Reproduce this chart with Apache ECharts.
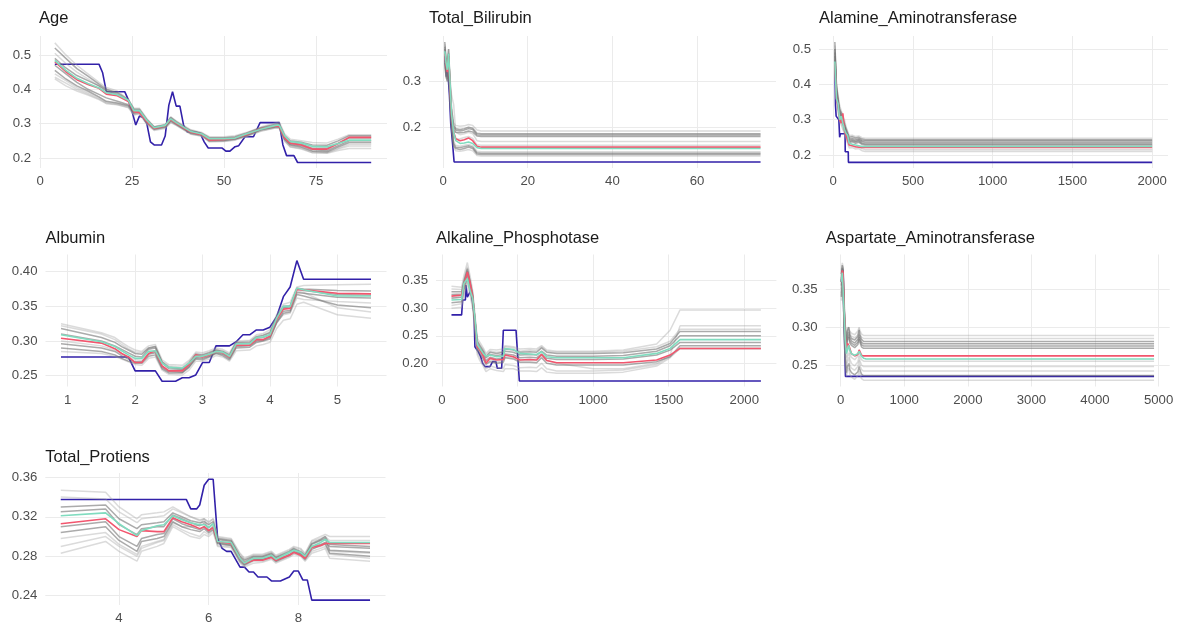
<!DOCTYPE html>
<html>
<head>
<meta charset="utf-8">
<script src="https://cdn.jsdelivr.net/npm/echarts@6/dist/echarts.min.js"></script>
<style>
  html, body { margin: 0; padding: 0; background: #ffffff; }
  #chart { width: 1179px; height: 625px; }
</style>
</head>
<body>
<div id="chart"></div>
<script>
// ---------- Age ----------
const ageX = [4,7,10,13,16,18,21,24,25.5,27,29,31,34,35.5,37,39,41,44,46,50,53,56,60,64,65,66.5,68,71,74,78,81,84,90];
const ageRed = [0.480,0.451,0.428,0.414,0.403,0.386,0.381,0.364,0.335,0.332,0.306,0.286,0.294,0.312,0.301,0.288,0.275,0.268,0.252,0.254,0.258,0.268,0.285,0.293,0.292,0.258,0.243,0.238,0.226,0.226,0.242,0.260,0.260];
const ageTeal = [0.484,0.455,0.432,0.417,0.404,0.390,0.384,0.368,0.338,0.338,0.310,0.288,0.295,0.314,0.303,0.290,0.277,0.270,0.256,0.256,0.258,0.270,0.284,0.295,0.296,0.264,0.248,0.244,0.234,0.233,0.242,0.252,0.252];
const ageIceDark = [
  [.52,.49,.46,.438,.415,.40,.39,.37,.342,.342,.312,.29,.296,.318,.306,.292,.28,.272,.259,.259,.262,.272,.288,.298,.30,.265,.25,.246,.238,.237,.25,.265,.265],
  [.49,.462,.44,.425,.41,.395,.385,.366,.338,.336,.31,.288,.294,.313,.302,.289,.276,.27,.254,.256,.258,.268,.285,.294,.295,.26,.244,.24,.228,.228,.242,.258,.258],
  [.47,.445,.42,.40,.385,.375,.365,.355,.333,.335,.305,.286,.292,.31,.30,.286,.274,.268,.252,.253,.256,.266,.283,.292,.292,.256,.24,.236,.224,.222,.236,.25,.25],
  [.455,.43,.41,.395,.378,.365,.36,.352,.33,.333,.303,.284,.29,.308,.298,.285,.272,.266,.25,.251,.255,.265,.282,.29,.29,.254,.238,.232,.22,.218,.232,.245,.245]
];
const ageIceLight = [
  [.535,.50,.47,.445,.42,.405,.395,.37,.345,.345,.315,.292,.298,.32,.308,.295,.282,.274,.262,.262,.265,.274,.29,.302,.305,.27,.255,.25,.245,.244,.255,.268,.268],
  [.505,.475,.45,.43,.41,.398,.388,.366,.34,.34,.31,.29,.296,.316,.304,.29,.279,.27,.257,.257,.26,.27,.287,.297,.298,.262,.246,.242,.232,.231,.245,.262,.262],
  [.445,.425,.405,.39,.375,.362,.358,.35,.328,.331,.302,.283,.289,.306,.297,.284,.271,.265,.249,.25,.254,.264,.28,.289,.289,.252,.235,.23,.218,.216,.228,.24,.24],
  [.435,.418,.40,.386,.372,.36,.356,.348,.326,.33,.30,.282,.288,.305,.296,.283,.27,.264,.248,.249,.253,.263,.279,.288,.288,.25,.233,.228,.216,.215,.226,.235,.235],
  [.43,.41,.395,.383,.37,.358,.355,.346,.325,.328,.298,.28,.286,.303,.295,.282,.269,.263,.247,.248,.252,.262,.278,.287,.287,.248,.232,.226,.215,.214,.222,.228,.228]
];
const ageBlueX = [4,16,17,18,23,24,25,26,27,28,29,30,31,33,34,35,36,37,38,39,40,42,43.5,44.6,45.7,49.5,50.5,51.6,53,54,55.7,58,59.8,65,66,67,69,70,90];
const ageBlueY = [.473,.473,.448,.393,.393,.369,.335,.296,.322,.318,.301,.247,.238,.238,.264,.354,.393,.351,.351,.296,.276,.276,.272,.247,.229,.229,.220,.220,.233,.236,.262,.262,.303,.303,.238,.207,.207,.187,.187];
const ageXTicks = [0,25,50,75];
const ageYTicks = [0.2,0.3,0.4,0.5];

// ---------- Total_Bilirubin ----------
const bilX = [0.4,0.7,1.0,1.3,1.6,2.0,2.5,3.0,4.0,5.0,6.0,7.0,8.0,9.0,75];
const bilRed = [0.36,0.335,0.32,0.355,0.30,0.225,0.19,0.176,0.172,0.174,0.178,0.172,0.16,0.158,0.158];
const bilTeal = [0.365,0.34,0.325,0.36,0.305,0.23,0.19,0.172,0.166,0.167,0.169,0.166,0.157,0.155,0.155];
const bilIceDark = [
  [0.385,0.35,0.34,0.37,0.31,0.24,0.205,0.198,0.196,0.198,0.201,0.199,0.188,0.187,0.187],
  [0.375,0.34,0.33,0.36,0.30,0.23,0.20,0.195,0.193,0.195,0.198,0.196,0.185,0.184,0.184],
  [0.37,0.33,0.32,0.355,0.29,0.22,0.195,0.19,0.189,0.19,0.193,0.191,0.182,0.181,0.181],
  [0.345,0.315,0.305,0.335,0.275,0.205,0.165,0.158,0.157,0.159,0.161,0.158,0.146,0.145,0.145],
  [0.34,0.31,0.30,0.33,0.27,0.20,0.16,0.155,0.153,0.155,0.158,0.155,0.143,0.142,0.142]
];
const bilIceLight = [
  [0.38,0.34,0.33,0.37,0.30,0.24,0.21,0.205,0.203,0.204,0.207,0.205,0.195,0.193,0.193],
  [0.36,0.33,0.32,0.35,0.29,0.22,0.18,0.175,0.176,0.179,0.181,0.177,0.163,0.162,0.162],
  [0.35,0.32,0.31,0.34,0.28,0.21,0.17,0.162,0.16,0.162,0.164,0.161,0.149,0.148,0.148],
  [0.33,0.31,0.30,0.32,0.27,0.20,0.158,0.15,0.149,0.151,0.153,0.15,0.14,0.139,0.139],
  [0.35,0.33,0.32,0.35,0.31,0.27,0.25,0.19,0.185,0.187,0.19,0.187,0.172,0.17,0.17]
];
const bilBlueX = [0.4,0.6,0.8,1.0,1.2,1.5,1.8,2.2,2.6,75];
const bilBlueY = [0.355,0.33,0.31,0.33,0.31,0.27,0.21,0.17,0.126,0.126];
const bilXTicks = [0,20,40,60];
const bilYTicks = [0.2,0.3];

// ---------- Alamine_Aminotransferase ----------
const alaX = [10,20,30,40,50,60,70,80,90,100,120,140,160,180,200,2000];
const alaRed = [0.46,0.36,0.34,0.30,0.29,0.318,0.27,0.255,0.25,0.228,0.226,0.223,0.222,0.221,0.221,0.221];
const alaTeal = [0.465,0.36,0.345,0.30,0.31,0.29,0.272,0.262,0.255,0.233,0.23,0.228,0.226,0.224,0.224,0.224];
const alaIceDark = [
  [0.52,0.40,0.36,0.33,0.32,0.32,0.29,0.275,0.27,0.25,0.252,0.248,0.25,0.245,0.243,0.243],
  [0.50,0.39,0.355,0.325,0.315,0.315,0.285,0.27,0.265,0.245,0.247,0.244,0.246,0.241,0.240,0.240],
  [0.49,0.38,0.35,0.32,0.31,0.31,0.28,0.267,0.262,0.242,0.244,0.24,0.243,0.238,0.236,0.236],
  [0.48,0.375,0.345,0.315,0.305,0.305,0.278,0.264,0.258,0.238,0.24,0.237,0.24,0.234,0.232,0.232],
  [0.47,0.37,0.34,0.31,0.30,0.30,0.275,0.26,0.255,0.235,0.237,0.233,0.236,0.231,0.229,0.229]
];
const alaIceLight = [
  [0.51,0.40,0.37,0.34,0.325,0.33,0.30,0.28,0.275,0.255,0.256,0.252,0.254,0.249,0.247,0.247],
  [0.45,0.36,0.33,0.30,0.29,0.29,0.265,0.25,0.245,0.225,0.226,0.222,0.224,0.218,0.215,0.215],
  [0.44,0.35,0.32,0.295,0.285,0.285,0.26,0.245,0.24,0.22,0.221,0.217,0.218,0.212,0.21,0.21],
  [0.50,0.385,0.35,0.32,0.31,0.31,0.28,0.265,0.26,0.24,0.241,0.238,0.239,0.228,0.226,0.226]
];
const alaBlueX = [10,14,18,25,35,40,45,55,74,75,94,95,2000];
const alaBlueY = [0.46,0.34,0.31,0.315,0.30,0.25,0.26,0.26,0.26,0.209,0.209,0.179,0.179];
const alaXTicks = [0,500,1000,1500,2000];
const alaYTicks = [0.2,0.3,0.4,0.5];

// ---------- Albumin ----------
const albX = [0.9,1.5,1.7,1.8,1.9,2.0,2.1,2.2,2.3,2.4,2.5,2.7,2.8,2.9,3.0,3.1,3.2,3.3,3.4,3.5,3.7,3.8,3.9,4.0,4.1,4.2,4.3,4.4,4.5,5.0,5.5];
const albRed = [0.304,0.297,0.289,0.282,0.277,0.269,0.269,0.282,0.286,0.264,0.257,0.257,0.266,0.280,0.277,0.280,0.285,0.283,0.277,0.294,0.294,0.302,0.302,0.307,0.331,0.346,0.347,0.374,0.374,0.369,0.368];
const albTeal = [0.309,0.299,0.292,0.286,0.280,0.275,0.275,0.285,0.286,0.268,0.262,0.261,0.268,0.278,0.278,0.281,0.285,0.284,0.278,0.296,0.296,0.305,0.306,0.309,0.333,0.350,0.350,0.376,0.374,0.365,0.365];
const albIceDark = [
  [.318,.305,.298,.292,.287,.282,.281,.29,.292,.27,.262,.26,.268,.281,.28,.283,.287,.285,.28,.298,.298,.306,.308,.312,.335,.35,.351,.376,.375,.373,.372],
  [.296,.29,.285,.279,.274,.27,.27,.281,.283,.262,.256,.255,.263,.276,.275,.278,.283,.281,.275,.292,.293,.30,.301,.305,.328,.343,.344,.37,.369,.363,.362],
  [.29,.285,.28,.275,.271,.268,.268,.278,.28,.26,.254,.254,.262,.274,.273,.277,.282,.279,.273,.29,.291,.298,.30,.303,.326,.34,.342,.367,.365,.352,.348],
  [.31,.30,.293,.288,.283,.278,.277,.288,.29,.268,.26,.259,.267,.279,.278,.281,.286,.284,.278,.296,.296,.304,.305,.309,.332,.348,.349,.375,.373,.367,.366]
];
const albIceLight = [
  [.325,.312,.305,.298,.292,.287,.285,.293,.295,.273,.266,.265,.272,.284,.283,.286,.29,.288,.283,.30,.301,.309,.311,.316,.338,.353,.356,.378,.38,.381,.382],
  [.285,.282,.278,.274,.27,.266,.265,.275,.277,.258,.252,.251,.258,.271,.271,.274,.279,.277,.271,.286,.287,.293,.295,.298,.318,.33,.332,.353,.356,.338,.333],
  [.30,.293,.287,.282,.277,.273,.272,.282,.284,.264,.257,.256,.264,.276,.276,.279,.284,.282,.276,.293,.294,.301,.302,.306,.327,.338,.34,.362,.36,.357,.355],
  [.322,.31,.302,.295,.289,.284,.283,.29,.292,.27,.264,.262,.27,.282,.281,.284,.288,.286,.281,.298,.30,.307,.309,.313,.334,.348,.35,.372,.37,.348,.342]
];
const albBlueX = [0.9,1.9,2.0,2.3,2.4,2.6,2.7,2.8,2.9,3.0,3.1,3.2,3.4,3.5,3.6,3.7,3.8,3.9,4.0,4.1,4.2,4.3,4.4,4.5,5.5];
const albBlueY = [0.277,0.277,0.257,0.257,0.242,0.242,0.247,0.247,0.251,0.269,0.269,0.293,0.293,0.299,0.309,0.309,0.316,0.316,0.32,0.335,0.364,0.378,0.416,0.389,0.389];
const albXTicks = [1,2,3,4,5];
const albYTicks = [0.25,0.30,0.35,0.40];

// ---------- Alkaline_Phosphotase ----------
const alkX = [63,130,146,168,185,203,218,234,251,273,291,318,362,406,417,472,516,582,626,659,693,759,1000,1200,1420,1509,1575,2110];
const alkRed = [0.322,0.324,0.342,0.366,0.348,0.321,0.279,0.23,0.224,0.213,0.20,0.209,0.206,0.207,0.215,0.212,0.206,0.207,0.206,0.216,0.205,0.201,0.201,0.201,0.206,0.215,0.227,0.227];
const alkTeal = [0.315,0.316,0.345,0.354,0.333,0.318,0.282,0.234,0.227,0.218,0.213,0.215,0.212,0.213,0.227,0.225,0.218,0.217,0.216,0.221,0.212,0.21,0.21,0.21,0.218,0.227,0.243,0.243];
const alkIceDark = [
  [.33,.33,.35,.372,.35,.325,.28,.235,.228,.22,.21,.216,.214,.216,.222,.22,.215,.216,.215,.222,.215,.213,.213,.214,.222,.232,.25,.25],
  [.318,.32,.34,.362,.342,.318,.275,.232,.224,.215,.205,.211,.208,.21,.217,.215,.21,.211,.21,.217,.209,.207,.207,.208,.215,.224,.238,.238],
  [.31,.312,.335,.355,.335,.312,.27,.226,.218,.208,.198,.203,.20,.202,.21,.208,.202,.202,.201,.21,.20,.197,.197,.197,.203,.212,.232,.232],
  [.325,.326,.345,.368,.346,.322,.278,.24,.232,.222,.212,.22,.218,.22,.226,.224,.22,.221,.22,.228,.22,.218,.218,.219,.226,.236,.258,.258]
];
const alkIceLight = [
  [.34,.338,.36,.383,.36,.332,.29,.245,.238,.228,.218,.225,.224,.226,.232,.23,.226,.227,.226,.232,.224,.222,.222,.224,.235,.26,.297,.297],
  [.30,.302,.325,.345,.325,.30,.26,.215,.205,.195,.185,.19,.187,.185,.19,.19,.186,.186,.185,.192,.184,.182,.182,.184,.195,.21,.228,.228],
  [.32,.322,.34,.36,.34,.315,.272,.23,.22,.21,.20,.206,.203,.205,.212,.21,.205,.205,.205,.213,.205,.20,.19,.19,.20,.215,.268,.268],
  [.335,.334,.352,.375,.352,.328,.285,.24,.233,.225,.215,.222,.22,.222,.23,.228,.222,.224,.223,.23,.222,.22,.22,.222,.23,.24,.262,.262],
  [.305,.308,.33,.35,.33,.305,.265,.22,.21,.20,.19,.195,.192,.19,.198,.196,.192,.193,.192,.20,.19,.186,.186,.188,.198,.212,.226,.226]
];
const alkBlueX = [63,130,137,155,159,168,181,192,203,212,218,240,256,269,285,318,335,357,366,395,406,490,512,2110];
const alkBlueY = [0.288,0.288,0.315,0.315,0.342,0.32,0.32,0.333,0.333,0.291,0.23,0.221,0.212,0.20,0.194,0.194,0.203,0.203,0.191,0.191,0.26,0.26,0.168,0.168];
const alkXTicks = [0,500,1000,1500,2000];
const alkYTicks = [0.20,0.25,0.30,0.35];

// ---------- Aspartate_Aminotransferase ----------
const aspX = [10,25,37,53,70,90,106,127,143,169,195,220,248,270,290,301,327,338,360,400,4929];
const aspRed = [0.36,0.375,0.372,0.325,0.29,0.272,0.279,0.276,0.272,0.265,0.263,0.262,0.262,0.264,0.27,0.268,0.263,0.262,0.262,0.262,0.262];
const aspTeal = [0.36,0.372,0.37,0.322,0.285,0.265,0.27,0.276,0.27,0.265,0.264,0.263,0.263,0.265,0.268,0.268,0.262,0.26,0.259,0.258,0.258];
const aspIceDark = [
  [0.37,0.382,0.378,0.33,0.30,0.285,0.295,0.30,0.29,0.285,0.284,0.283,0.283,0.288,0.296,0.29,0.284,0.282,0.281,0.281,0.281],
  [0.365,0.378,0.375,0.328,0.296,0.28,0.29,0.294,0.286,0.282,0.28,0.279,0.279,0.284,0.29,0.286,0.28,0.279,0.278,0.278,0.278],
  [0.36,0.375,0.372,0.325,0.292,0.276,0.286,0.29,0.282,0.279,0.277,0.276,0.276,0.28,0.287,0.283,0.277,0.276,0.275,0.275,0.275],
  [0.355,0.372,0.37,0.32,0.288,0.272,0.283,0.287,0.279,0.276,0.274,0.273,0.273,0.277,0.284,0.28,0.274,0.273,0.272,0.272,0.272],
  [0.34,0.36,0.355,0.30,0.26,0.24,0.248,0.252,0.244,0.24,0.238,0.237,0.237,0.241,0.248,0.244,0.238,0.237,0.236,0.236,0.236]
];
const aspIceLight = [
  [0.375,0.385,0.38,0.34,0.305,0.29,0.30,0.302,0.295,0.292,0.291,0.29,0.29,0.295,0.30,0.296,0.291,0.29,0.289,0.289,0.289],
  [0.37,0.38,0.376,0.335,0.30,0.288,0.296,0.30,0.292,0.288,0.287,0.286,0.286,0.29,0.298,0.292,0.287,0.286,0.285,0.285,0.285],
  [0.35,0.368,0.365,0.31,0.275,0.26,0.27,0.275,0.265,0.26,0.258,0.257,0.256,0.262,0.27,0.264,0.257,0.256,0.255,0.255,0.255],
  [0.345,0.365,0.36,0.305,0.268,0.252,0.262,0.266,0.258,0.252,0.25,0.249,0.249,0.254,0.262,0.256,0.25,0.249,0.248,0.248,0.248],
  [0.342,0.362,0.358,0.302,0.262,0.246,0.255,0.26,0.25,0.246,0.244,0.243,0.243,0.248,0.256,0.25,0.244,0.243,0.242,0.242,0.242],
  [0.335,0.355,0.35,0.295,0.255,0.235,0.242,0.246,0.238,0.234,0.232,0.231,0.231,0.236,0.242,0.238,0.232,0.231,0.23,0.23,0.23]
];
const aspBlueX = [10,30,40,50,60,65,75,4929];
const aspBlueY = [0.36,0.376,0.37,0.31,0.287,0.266,0.235,0.235];
const aspXTicks = [0,1000,2000,3000,4000,5000];
const aspYTicks = [0.25,0.30,0.35];

// ---------- Total_Protiens ----------
const proX = [2.7,3.7,4.0,4.4,4.5,4.85,5.0,5.2,5.4,5.6,5.8,5.9,6.0,6.1,6.2,6.5,6.7,6.8,7.0,7.2,7.4,7.5,7.8,7.9,8.05,8.15,8.3,8.5,8.6,8.7,9.6];
const proRed = [0.313,0.318,0.307,0.30,0.306,0.305,0.305,0.319,0.315,0.312,0.308,0.31,0.306,0.309,0.295,0.293,0.278,0.273,0.276,0.276,0.279,0.276,0.281,0.284,0.281,0.278,0.289,0.291,0.293,0.293,0.293];
const proTeal = [0.321,0.324,0.313,0.301,0.306,0.311,0.312,0.321,0.317,0.314,0.312,0.312,0.309,0.313,0.295,0.294,0.278,0.273,0.278,0.278,0.281,0.277,0.284,0.286,0.284,0.28,0.29,0.294,0.297,0.294,0.294];
const proIceDark = [
  [.33,.332,.318,.308,.312,.314,.315,.324,.32,.316,.314,.315,.312,.315,.298,.296,.28,.276,.28,.28,.283,.279,.285,.288,.285,.281,.293,.297,.30,.292,.29],
  [.325,.328,.312,.302,.308,.31,.31,.322,.318,.314,.311,.313,.309,.313,.297,.295,.279,.274,.279,.279,.282,.278,.284,.287,.284,.28,.292,.296,.298,.286,.284],
  [.304,.31,.296,.285,.295,.298,.30,.315,.31,.307,.305,.308,.304,.307,.293,.291,.275,.271,.276,.277,.279,.275,.281,.284,.282,.277,.287,.291,.293,.283,.28],
  [.31,.315,.30,.29,.298,.302,.303,.318,.313,.31,.307,.31,.306,.31,.294,.292,.277,.272,.277,.277,.28,.276,.282,.285,.283,.279,.29,.292,.294,.29,.288]
];
const proIceLight = [
  [.347,.345,.33,.318,.322,.324,.325,.33,.325,.32,.316,.318,.314,.318,.30,.298,.283,.278,.282,.282,.285,.281,.287,.29,.288,.283,.296,.30,.302,.30,.30],
  [.283,.295,.285,.275,.285,.29,.293,.31,.305,.30,.298,.302,.30,.304,.29,.289,.273,.269,.273,.274,.277,.273,.279,.282,.28,.275,.283,.286,.288,.278,.275],
  [.29,.30,.29,.28,.288,.294,.296,.312,.307,.303,.30,.305,.302,.306,.291,.29,.274,.27,.275,.275,.278,.274,.28,.283,.281,.276,.285,.288,.29,.282,.278],
  [.34,.338,.325,.314,.318,.32,.321,.328,.324,.32,.317,.318,.315,.318,.299,.297,.282,.277,.281,.281,.284,.28,.286,.289,.287,.282,.295,.298,.30,.296,.296],
  [.298,.304,.292,.282,.29,.295,.297,.314,.31,.31,.312,.318,.305,.308,.293,.291,.276,.272,.276,.276,.279,.275,.281,.284,.282,.277,.288,.29,.292,.285,.283]
];
const proBlueX = [2.7,5.5,5.6,5.73,5.8,5.9,6.0,6.1,6.2,6.3,6.4,6.5,6.7,6.8,6.9,7.0,7.1,7.3,7.4,7.6,7.8,7.9,8.0,8.1,8.2,8.3,9.6];
const proBlueY = [0.3376,0.3376,0.328,0.328,0.332,0.352,0.358,0.358,0.298,0.288,0.285,0.285,0.269,0.269,0.264,0.264,0.259,0.259,0.255,0.255,0.259,0.265,0.265,0.256,0.256,0.2355,0.2355];
const proXTicks = [4,6,8];
const proYTicks = [0.24,0.28,0.32,0.36];

// ---------- layout & drawing ----------
const panels = [
  { title: 'Age', gx: ageX, dark: ageIceDark, light: ageIceLight, red: ageRed, teal: ageTeal, bx: ageBlueX, by: ageBlueY,
    xt: ageXTicks, yt: ageYTicks, yDec: 1, box: [39, 36, 348, 132], xr: [-0.3, 94.3], yr: [0.171, 0.555], ty: 18.5 },
  { title: 'Total_Bilirubin', gx: bilX, dark: bilIceDark, light: bilIceLight, red: bilRed, teal: bilTeal, bx: bilBlueX, by: bilBlueY,
    xt: bilXTicks, yt: bilYTicks, yDec: 1, box: [429, 36, 347, 132], xr: [-3.33, 78.65], yr: [0.113, 0.398], ty: 18.5 },
  { title: 'Alamine_Aminotransferase', gx: alaX, dark: alaIceDark, light: alaIceLight, red: alaRed, teal: alaTeal, bx: alaBlueX, by: alaBlueY,
    xt: alaXTicks, yt: alaYTicks, yDec: 1, box: [819, 36, 349, 132], xr: [-89.5, 2099.5], yr: [0.163, 0.537], ty: 18.5 },
  { title: 'Albumin', gx: albX, dark: albIceDark, light: albIceLight, red: albRed, teal: albTeal, bx: albBlueX, by: albBlueY,
    xt: albXTicks, yt: albYTicks, yDec: 2, box: [45.5, 254.5, 341, 132], xr: [0.67, 5.73], yr: [0.2344, 0.4248], ty: 238.5 },
  { title: 'Alkaline_Phosphotase', gx: alkX, dark: alkIceDark, light: alkIceLight, red: alkRed, teal: alkTeal, bx: alkBlueX, by: alkBlueY,
    xt: alkXTicks, yt: alkYTicks, yDec: 2, box: [436, 254.5, 340.4, 132], xr: [-39.4, 2212.4], yr: [0.1579, 0.3976], ty: 238.5 },
  { title: 'Aspartate_Aminotransferase', gx: aspX, dark: aspIceDark, light: aspIceLight, red: aspRed, teal: aspTeal, bx: aspBlueX, by: aspBlueY,
    xt: aspXTicks, yt: aspYTicks, yDec: 2, box: [825.7, 254.5, 344, 132], xr: [-236, 5175], yr: [0.2216, 0.396], ty: 238.5 },
  { title: 'Total_Protiens', gx: proX, dark: proIceDark, light: proIceLight, red: proRed, teal: proTeal, bx: proBlueX, by: proBlueY,
    xt: proXTicks, yt: proYTicks, yDec: 2, box: [45.3, 473, 340.2, 132], xr: [2.355, 9.945], yr: [0.2306, 0.3644], ty: 457 }
];

const FONT = '"Liberation Sans", Arial, Helvetica, sans-serif';
const GRID_COLOR = '#ebebeb';
const TICK_COLOR = '#4d4d4d';
const COL_BLUE = '#3221a9';
const COL_RED = '#f2566e';
const COL_TEAL = '#80dcbf';
const COL_DARK = 'rgba(115,115,115,0.6)';
const COL_LIGHT = 'rgba(160,160,160,0.38)';

const zip = (xs, ys) => xs.map((x, k) => [x, ys[k]]);

const grids = [], xAxes = [], yAxes = [], series = [], graphics = [];

panels.forEach((p, i) => {
  const [l, t, w, h] = p.box;
  grids.push({ left: l, top: t, width: w, height: h, containLabel: false });
  xAxes.push({
    type: 'value', gridIndex: i, min: p.xr[0], max: p.xr[1],
    axisLine: { show: false },
    axisTick: { show: false, customValues: p.xt },
    axisLabel: { customValues: p.xt, color: TICK_COLOR, fontSize: 13.2, fontFamily: FONT, margin: 7,
                 formatter: v => String(Math.round(v)) },
    splitLine: { show: true, lineStyle: { color: GRID_COLOR, width: 1 } }
  });
  yAxes.push({
    type: 'value', gridIndex: i, min: p.yr[0], max: p.yr[1],
    axisLine: { show: false },
    axisTick: { show: false, customValues: p.yt },
    axisLabel: { customValues: p.yt, color: TICK_COLOR, fontSize: 13.2, fontFamily: FONT, margin: 8,
                 formatter: v => v.toFixed(p.yDec) },
    splitLine: { show: true, lineStyle: { color: GRID_COLOR, width: 1 } }
  });

  const base = { type: 'line', xAxisIndex: i, yAxisIndex: i, showSymbol: false, symbol: 'none',
                 silent: true, animation: false, clip: true };

  series.push(Object.assign({}, base, { name: p.title + ' observed', z: 2,
    data: zip(p.bx, p.by), lineStyle: { color: COL_BLUE, width: 1.6 } }));
  p.light.forEach(c => series.push(Object.assign({}, base, { z: 3,
    data: zip(p.gx, c), lineStyle: { color: COL_LIGHT, width: 1.5 } })));
  p.dark.forEach(c => series.push(Object.assign({}, base, { z: 3,
    data: zip(p.gx, c), lineStyle: { color: COL_DARK, width: 1.5 } })));
  series.push(Object.assign({}, base, { z: 4,
    data: zip(p.gx, p.red), lineStyle: { color: COL_RED, width: 1.6 } }));
  series.push(Object.assign({}, base, { z: 5,
    data: zip(p.gx, p.teal), lineStyle: { color: COL_TEAL, width: 1.6 } }));

  graphics.push({ type: 'text', x: l, y: p.ty, silent: true,
    style: { text: p.title, fill: '#1a1a1a', font: '16.5px ' + FONT, verticalAlign: 'middle', align: 'left' } });
});

const chart = echarts.init(document.getElementById('chart'), null, { renderer: 'canvas' });
chart.setOption({
  backgroundColor: '#ffffff',
  animation: false,
  grid: grids,
  xAxis: xAxes,
  yAxis: yAxes,
  series: series,
  graphic: graphics
});
</script>
</body>
</html>
